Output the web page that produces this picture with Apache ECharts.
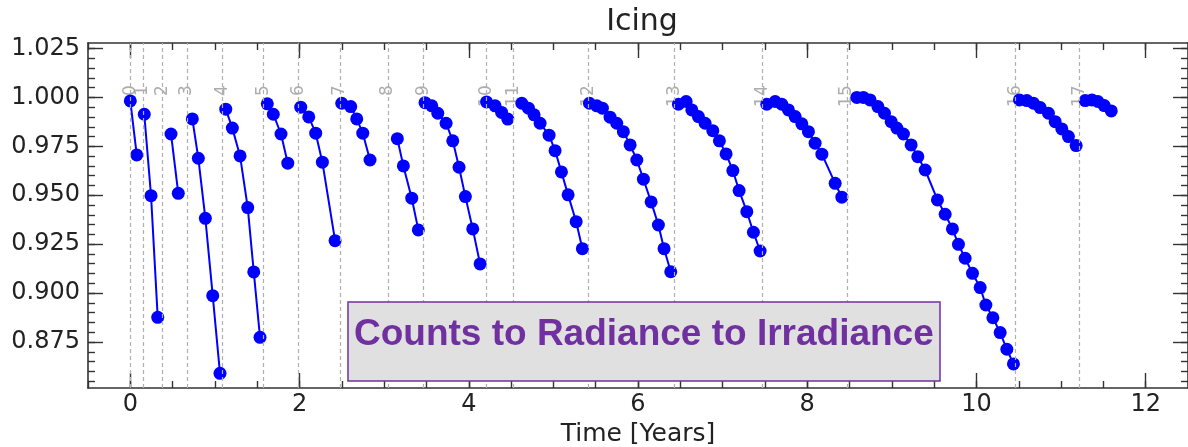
<!DOCTYPE html>
<html>
<head>
<meta charset="utf-8">
<script src="https://cdn.jsdelivr.net/npm/echarts@6/dist/echarts.min.js"></script>
<style>
html,body{margin:0;padding:0;background:#fff;}
#chart{width:1188px;height:447px;}
</style>
</head>
<body>
<div id="chart"></div>
<script>
// ---- data ----
const titleText = 'Icing';
const xName = 'Time [Years]';
const boxText = 'Counts to Radiance to Irradiance';

const xTicks = [0, 2, 4, 6, 8, 10, 12];
const yTicks = [0.875, 0.900, 0.925, 0.950, 0.975, 1.000, 1.025];

const vlineX = [0.0, 0.147, 0.383, 0.667, 1.087, 1.572, 1.986, 2.479, 3.046, 3.463, 4.205, 4.524, 5.414, 6.430, 7.475, 8.468, 10.457, 11.218];
const vlineLabels = ['0','1','2','3','4','5','6','7','8','9','10','11','12','13','14','15','16','17'];

const run0 = [[0.000,0.9982],[0.076,0.9706]];
const run1 = [[0.165,0.9914],[0.245,0.9498],[0.324,0.8876]];
const run2 = [[0.481,0.9813],[0.567,0.9510]];
const run3 = [[0.733,0.9890],[0.804,0.9689],[0.887,0.9382],[0.974,0.8987],[1.060,0.8590]];
const run4 = [[1.128,0.9940],[1.206,0.9843],[1.297,0.9701],[1.388,0.9437],[1.459,0.9108],[1.533,0.8774]];
const run5 = [[1.619,0.9967],[1.690,0.9914],[1.781,0.9813],[1.861,0.9664]];
const run6 = [[2.014,0.9950],[2.109,0.9900],[2.191,0.9817],[2.270,0.9669],[2.420,0.9268]];
const run7 = [[2.499,0.9970],[2.605,0.9953],[2.676,0.9890],[2.747,0.9817],[2.833,0.9680]];
const run8 = [[3.156,0.9789],[3.227,0.9650],[3.326,0.9485],[3.404,0.9323]];
const run9 = [[3.483,0.9973],[3.563,0.9957],[3.634,0.9919],[3.732,0.9868],[3.811,0.9778],[3.885,0.9643],[3.960,0.9493],[4.047,0.9328],[4.134,0.9149]];
const run10 = [[4.210,0.9977],[4.311,0.9957],[4.388,0.9923],[4.461,0.9889]];
const run11 = [[4.627,0.9970],[4.705,0.9945],[4.772,0.9911],[4.843,0.9868],[4.949,0.9807],[5.020,0.9728],[5.095,0.9619],[5.174,0.9502],[5.269,0.9365],[5.343,0.9227]];
const run12 = [[5.426,0.9970],[5.513,0.9957],[5.579,0.9945],[5.670,0.9899],[5.749,0.9868],[5.827,0.9825],[5.907,0.9757],[5.986,0.9680],[6.064,0.9582],[6.155,0.9466],[6.241,0.9348],[6.308,0.9227],[6.387,0.9109]];
const run13 = [[6.478,0.9965],[6.569,0.9979],[6.636,0.9936],[6.714,0.9902],[6.793,0.9868],[6.884,0.9830],[6.962,0.9778],[7.041,0.9711],[7.121,0.9626],[7.195,0.9524],[7.286,0.9416],[7.364,0.9311],[7.443,0.9215]];
const run14 = [[7.522,0.9965],[7.621,0.9979],[7.700,0.9965],[7.778,0.9936],[7.857,0.9902],[7.936,0.9865],[8.014,0.9825],[8.093,0.9766],[8.173,0.9710],[8.330,0.9561],[8.409,0.9490]];
const run15 = [[8.586,1.0000],[8.664,1.0000],[8.743,0.9987],[8.835,0.9953],[8.913,0.9919],[8.992,0.9876],[9.059,0.9843],[9.137,0.9813],[9.228,0.9757],[9.307,0.9697],[9.394,0.9629],[9.539,0.9476],[9.630,0.9403],[9.716,0.9328],[9.787,0.9249],[9.866,0.9178],[9.953,0.9101],[10.044,0.9028],[10.111,0.8939],[10.194,0.8874],[10.280,0.8798],[10.359,0.8713],[10.437,0.8638]];
const run16 = [[10.508,0.9987],[10.596,0.9984],[10.674,0.9970],[10.753,0.9948],[10.851,0.9919],[10.930,0.9876],[11.009,0.9839],[11.087,0.9800],[11.178,0.9754]];
const run17 = [[11.285,0.9984],[11.364,0.9987],[11.435,0.9979],[11.510,0.9958],[11.593,0.9931]];

const runs = [run0, run1, run2, run3, run4, run5, run6, run7, run8, run9, run10, run11, run12, run13, run14, run15, run16, run17];

// ---- axes helpers ----
const X_MIN = -0.5, X_MAX = 12.5;
const Y_MIN = 0.8515, Y_MAX = 1.0278;
const xMinor = [];
for (let k = -1; k <= 25; k++) xMinor.push(k * 0.5);
const yMinor = [];
for (let k = 171; k <= 205; k++) yMinor.push(+(k * 0.005).toFixed(3));

const FONT = 'DejaVu Sans';
const AX = '#333333';
const BLUE = '#0000ff';
const PURPLE = '#7030a0';

function xAx(pos, ticks, len, showLine, showLabel) {
  return {
    type: 'value', position: pos, min: X_MIN, max: X_MAX,
    splitLine: {show: false},
    axisLine: {show: showLine, onZero: false, lineStyle: {color: AX, width: 1.6}},
    axisTick: {show: true, inside: true, length: len, customValues: ticks, lineStyle: {color: AX, width: 1.4}},
    axisLabel: showLabel ? {show: true, customValues: ticks, fontSize: 24, fontFamily: FONT, color: '#222', margin: 5} : {show: false},
    name: showLabel ? xName : '',
    nameLocation: 'middle', nameGap: 31,
    nameTextStyle: {fontSize: 25, fontFamily: FONT, color: '#222'}
  };
}
function yAx(pos, ticks, len, showLine, showLabel) {
  return {
    type: 'value', position: pos, min: Y_MIN, max: Y_MAX,
    splitLine: {show: false},
    axisLine: {show: showLine, onZero: false, lineStyle: {color: AX, width: 1.6}},
    axisTick: {show: true, inside: true, length: len, customValues: ticks, lineStyle: {color: AX, width: 1.4}},
    axisLabel: showLabel ? {show: true, customValues: ticks, fontSize: 24, fontFamily: FONT, color: '#222', margin: 8,
      formatter: v => v.toFixed(3)} : {show: false}
  };
}

const series = [];
// dashed vertical marker lines
series.push({
  type: 'line', data: [], silent: true,
  markLine: {
    silent: true, symbol: ['none', 'none'], animation: false,
    label: {show: false},
    lineStyle: {type: [4, 3], color: '#b0b0b0', width: 1.2},
    data: vlineX.map(x => ({xAxis: x}))
  }
});
// rotated labels of marker lines
series.push({
  type: 'scatter', symbolSize: 0, silent: true, z: 1,
  data: vlineX.map((x, i) => ({value: [x, 1.0062], name: vlineLabels[i]})),
  label: {
    show: true, position: [0, 0], rotate: 90, align: 'right', verticalAlign: 'middle',
    formatter: p => p.name, fontSize: 17, fontFamily: FONT, color: '#999999'
  }
});
runs.forEach((r, i) => {
  series.push({
    type: 'line', name: 'run' + i, data: r, z: 3,
    symbol: 'circle', symbolSize: 13, showSymbol: true,
    lineStyle: {color: BLUE, width: 2},
    itemStyle: {color: BLUE},
    animation: false
  });
});

const chart = echarts.init(document.getElementById('chart'), null, {renderer: 'canvas'});
chart.setOption({
  animation: false,
  backgroundColor: '#ffffff',
  title: {
    text: titleText, left: 637, top: 2, textAlign: 'center',
    textStyle: {fontSize: 30, fontWeight: 'normal', fontFamily: FONT, color: '#222'}
  },
  grid: {left: 88, right: 0, top: 43, bottom: 59, containLabel: false, outerBoundsMode: 'none'},
  xAxis: [
    xAx('bottom', xTicks, 15, true, true),
    xAx('bottom', xMinor, 7, false, false),
    xAx('top', xTicks, 15, true, false),
    xAx('top', xMinor, 7, false, false)
  ],
  yAxis: [
    yAx('left', yTicks, 15, true, true),
    yAx('left', yMinor, 7, false, false),
    yAx('right', yTicks, 15, true, false),
    yAx('right', yMinor, 7, false, false)
  ],
  series: series,
  graphic: [
    {
      type: 'rect', z: 100, silent: true,
      shape: {x: 348, y: 302, width: 592, height: 79},
      style: {fill: '#e0e0e0', stroke: PURPLE, lineWidth: 1.5}
    },
    {
      type: 'text', z: 101, silent: true, x: 354, y: 335,
      style: {text: boxText, fill: PURPLE, font: 'bold 37px "Liberation Sans", Arial, sans-serif',
        textAlign: 'left', textVerticalAlign: 'middle'}
    }
  ]
});
</script>
</body>
</html>
